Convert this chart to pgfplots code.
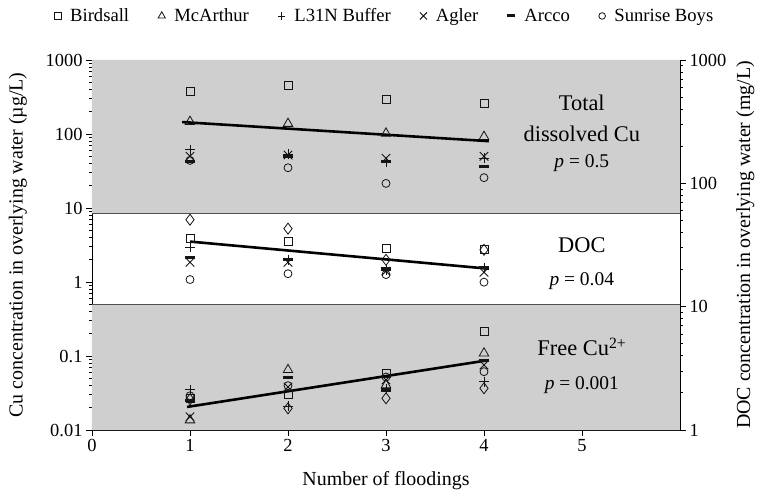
\documentclass[border=0pt]{standalone}
\usepackage{fontspec}
\setmainfont{Liberation Serif}
\usepackage{pgfplots}
\pgfplotsset{compat=1.18}
\definecolor{bandgray}{RGB}{206,207,206}
\definecolor{edgegray}{RGB}{80,80,80}
\definecolor{mk}{RGB}{20,20,20}

\tikzset{
  mkSq/.style={mark=square, mark size=4bp, mark options={solid, draw=mk, fill=none, line width=0.8bp}},
  mkTri/.style={mark=triangle, mark size=5.5bp, mark options={solid, draw=mk, fill=none, line width=0.8bp}},
  mkPl/.style={mark=+, mark size=5bp, mark options={solid, draw=mk, line width=0.9bp}},
  mkX/.style={mark=x, mark size=6bp, mark options={solid, draw=mk, line width=0.9bp}},
  mkDs/.style={mark=-, mark size=5bp, mark options={solid, draw=mk, line width=3bp}},
  mkCi/.style={mark=o, mark size=4bp, mark options={solid, draw=mk, fill=none, line width=0.8bp}},
  mkDi/.style={mark=diamond, mark size=5.5bp, mark options={solid, draw=mk, fill=none, line width=0.8bp}},
}

\begin{document}
\begin{tikzpicture}
\begin{axis}[name=main,
  ymode=log,
  width=588bp, height=370bp, scale only axis,
  xmin=0, xmax=6, ymin=0.01, ymax=1000,
  tick align=outside, major tick length=6bp,
  tick style={black, line width=0.8bp},
  axis line style={black, line width=0.9bp},
  xticklabel style={font=\fontsize{18.5}{22}\selectfont},
  yticklabel style={font=\fontsize{18.5}{22}\selectfont},
  axis x line*=bottom, axis y line*=left,
  xtick={0,1,2,3,4,5}, xticklabels={0,1,2,3,4,5},
  ytick={0.01,0.1,1,10,100,1000}, yticklabels={0.01,0.1,1,10,100,1000},
  minor ytick={},
  xlabel={Number of floodings},
  ylabel={Cu concentration in overlying water (µg/L)},
  xlabel style={at={(axis description cs:0.5,-0.137)}, anchor=center, font=\fontsize{20}{24}\selectfont},
  ylabel style={at={(axis description cs:-0.126,0.5)}, anchor=center, font=\fontsize{20}{24}\selectfont},
  legend columns=6,
  legend cell align=left,
  legend style={at={(axis description cs:0.498,1.119)}, anchor=center, draw=none, fill=none,
    font=\fontsize{18.7}{22}\selectfont,
    /tikz/every odd column/.append style={column sep=7bp},
    /tikz/every even column/.append style={column sep=27bp}},
]
% shaded bands
\addplot[fill=bandgray, draw=none, forget plot] coordinates {(0,8.5) (6,8.5) (6,1000) (0,1000) (0,8.5)};
\addplot[fill=bandgray, draw=none, forget plot] coordinates {(0,0.01) (6,0.01) (6,0.5) (0,0.5) (0,0.01)};
\addplot[draw=edgegray, line width=1.4bp, forget plot] coordinates {(0,8.5) (6,8.5)};
\addplot[draw=edgegray, line width=1.4bp, forget plot] coordinates {(0,0.5) (6,0.5)};

% legend
\addlegendimage{only marks, mkSq, mark size=3.4bp}\addlegendentry{Birdsall}
\addlegendimage{only marks, mkTri, mark size=4.2bp}\addlegendentry{McArthur}
\addlegendimage{only marks, mkPl, mark size=3.8bp}\addlegendentry{L31N Buffer}
\addlegendimage{only marks, mkX, mark size=5bp}\addlegendentry{Agler}
\addlegendimage{only marks, mkDs, mark size=4bp}\addlegendentry{Arcco}
\addlegendimage{only marks, mkCi, mark size=3.3bp}\addlegendentry{Sunrise Boys}

% trend lines
\addplot[black, line width=2.6bp, forget plot] coordinates {(0.92,145) (4.05,80)};
\addplot[black, line width=2.6bp, forget plot] coordinates {(0.97,0.0205) (4.05,0.088)};

% Total dissolved Cu and free Cu2+ (ug/L)
\addplot[only marks, mkSq, forget plot] coordinates {(1,381) (2,450) (3,297) (4,262) (1,0.027) (2,0.0306) (3,0.058) (4,0.213)};
\addplot[only marks, mkTri, forget plot] coordinates {(1,147) (2,138) (3,102) (4,92) (1,0.0136) (2,0.065) (3,0.0405) (4,0.109)};
\addplot[only marks, mkPl, forget plot] coordinates {(1,61) (2,53) (3,42) (4,47) (1,0.0348) (2,0.021) (3,0.036) (4,0.045)};
\addplot[only marks, mkX, forget plot] coordinates {(1,50) (2,52) (3,47) (4,50) (1,0.0151) (2,0.038) (3,0.0474) (4,0.0755)};
\addplot[only marks, mkDs, forget plot] coordinates {(1,43) (2,50) (3,42) (4,36) (1,0.025) (2,0.0515) (3,0.0337) (4,0.088)};
\addplot[only marks, mkCi, forget plot] coordinates {(1,44) (2,35) (3,21.5) (4,25.7) (1,0.029) (2,0.0397) (3,0.052) (4,0.0614)};
\addplot[only marks, mkDi, forget plot] coordinates {(1,0.026) (2,0.0196) (3,0.0268) (4,0.0366)};

% annotations
\node[font=\fontsize{22.5}{26}\selectfont] at (rel axis cs:0.833,0.884) {Total};
\node[font=\fontsize{22.5}{26}\selectfont] at (rel axis cs:0.833,0.800) {dissolved Cu};
\node[font=\fontsize{19.5}{23}\selectfont] at (rel axis cs:0.833,0.722) {\textit{p} = 0.5};
\node[font=\fontsize{22.5}{26}\selectfont] at (rel axis cs:0.833,0.500) {DOC};
\node[font=\fontsize{19.5}{23}\selectfont] at (rel axis cs:0.833,0.403) {\textit{p} = 0.04};
\node[font=\fontsize{22.5}{26}\selectfont] at (rel axis cs:0.833,0.224) {Free Cu\textsuperscript{2+}};
\node[font=\fontsize{19.5}{23}\selectfont] at (rel axis cs:0.833,0.122) {\textit{p} = 0.001};
\end{axis}

\begin{axis}[
  ymode=log,
  width=588bp, height=370bp, scale only axis,
  xmin=0, xmax=6, ymin=1, ymax=1000,
  tick align=outside, major tick length=6bp,
  tick style={black, line width=0.8bp},
  axis line style={black, line width=0.9bp},
  yticklabel style={font=\fontsize{18.5}{22}\selectfont},
  axis y line*=right, axis x line=none,
  ytick={1,10,100,1000}, yticklabels={1,10,100,1000},
  minor ytick={},
  ylabel={DOC concentration in overlying water (mg/L)},
  ylabel style={at={(axis description cs:1.111,0.5)}, anchor=center, font=\fontsize{20}{24}\selectfont},
]
% DOC (mg/L)
\addplot[black, line width=2.6bp] coordinates {(1,33.7) (4.05,20.3)};
\addplot[only marks, mkSq] coordinates {(1,35.5) (2,33.7) (3,29.8) (4,28.9)};
\addplot[only marks, mkPl] coordinates {(1,30.3) (2,24.1) (3,19.8) (4,20.7)};
\addplot[only marks, mkX] coordinates {(1,22.9) (2,22.9) (3,19.4) (4,19.0)};
\addplot[only marks, mkDs] coordinates {(1,24.9) (2,24.1) (3,20.5) (4,20.7)};
\addplot[only marks, mkCi] coordinates {(1,16.6) (2,18.5) (3,18.2) (4,15.8)};
\addplot[only marks, mkDi] coordinates {(1,50.7) (2,42.9) (3,24.0) (4,28.9)};
\end{axis}

\pgfresetboundingbox
\path[use as bounding box] ([shift={(-92bp,-62bp)}]main.south west) rectangle ([shift={(82bp,60bp)}]main.north east);
\end{tikzpicture}
\end{document}
